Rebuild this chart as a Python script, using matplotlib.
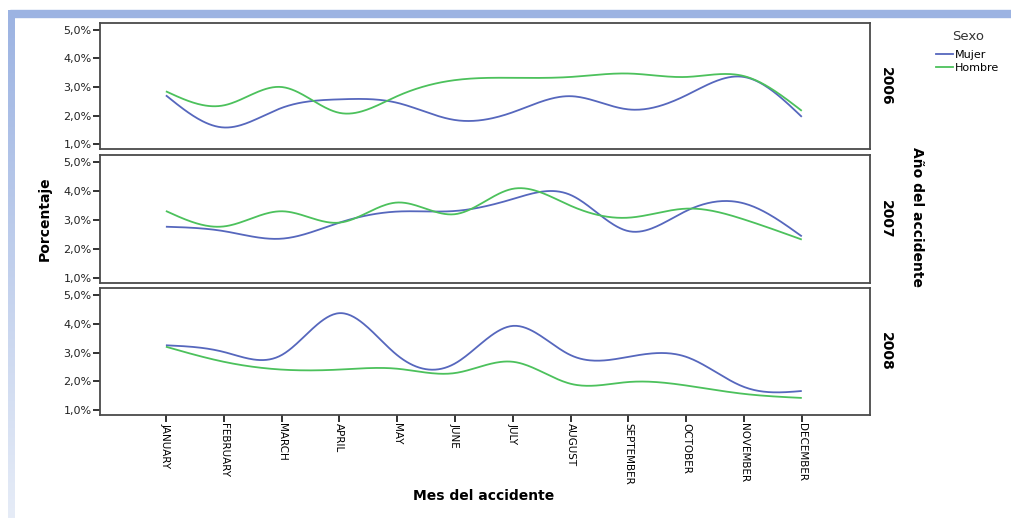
import numpy as np
import matplotlib
matplotlib.use("Agg")
import matplotlib.pyplot as plt
from matplotlib.patches import Rectangle
from matplotlib.lines import Line2D

months = ["JANUARY", "FEBRUARY", "MARCH", "APRIL", "MAY", "JUNE", "JULY",
          "AUGUST", "SEPTEMBER", "OCTOBER", "NOVEMBER", "DECEMBER"]
years = ["2006", "2007", "2008"]

mujer_2006 = [2.71, 1.59, 2.27, 2.57, 2.45, 1.85, 2.12, 2.68, 2.22, 2.71, 3.35, 1.96]
hombre_2006 = [2.85, 2.36, 3.00, 2.10, 2.68, 3.24, 3.32, 3.35, 3.47, 3.35, 3.38, 2.17]
mujer_2007 = [2.77, 2.62, 2.36, 2.91, 3.29, 3.31, 3.72, 3.86, 2.62, 3.31, 3.57, 2.44]
hombre_2007 = [3.31, 2.78, 3.30, 2.91, 3.60, 3.20, 4.07, 3.49, 3.08, 3.39, 3.02, 2.33]
mujer_2008 = [3.25, 3.02, 2.91, 4.36, 2.91, 2.62, 3.92, 2.91, 2.85, 2.85, 1.81, 1.67]
hombre_2008 = [3.20, 2.68, 2.41, 2.41, 2.44, 2.29, 2.68, 1.92, 1.98, 1.86, 1.57, 1.43]

mujer = [mujer_2006, mujer_2007, mujer_2008]
hombre = [hombre_2006, hombre_2007, hombre_2008]

yticks = [1, 2, 3, 4, 5]
ytick_labels = ["1,0%", "2,0%", "3,0%", "4,0%", "5,0%"]

C_MUJER = "#5667bd"
C_HOMBRE = "#4cc15c"


def natural_spline(x, y, n=400):
    """Smooth interpolating curve (natural cubic spline) through the points."""
    x = np.asarray(x, float)
    y = np.asarray(y, float)
    k = len(x)
    h = np.diff(x)
    A = np.zeros((k, k))
    r = np.zeros(k)
    A[0, 0] = A[-1, -1] = 1.0
    for i in range(1, k - 1):
        A[i, i - 1] = h[i - 1]
        A[i, i] = 2 * (h[i - 1] + h[i])
        A[i, i + 1] = h[i]
        r[i] = 3 * ((y[i + 1] - y[i]) / h[i] - (y[i] - y[i - 1]) / h[i - 1])
    c = np.linalg.solve(A, r)
    b = (y[1:] - y[:-1]) / h - h * (2 * c[:-1] + c[1:]) / 3
    d = (c[1:] - c[:-1]) / (3 * h)
    xs = np.linspace(x[0], x[-1], n)
    idx = np.clip(np.searchsorted(x, xs, side="right") - 1, 0, k - 2)
    dx = xs - x[idx]
    ys = y[idx] + b[idx] * dx + c[idx] * dx ** 2 + d[idx] * dx ** 3
    return xs, ys


W, H = 1011, 518
fig = plt.figure(figsize=(W / 100, H / 100), dpi=100)

# window frame: top bar and fading left bar
fig.patches.append(Rectangle((10 / W, 1 - 17 / H), 1 - 10 / W, 7 / H,
                             transform=fig.transFigure, color="#9cb3e2", zorder=0))
grad = np.linspace(0, 1, 256).reshape(-1, 1)
ax_bar = fig.add_axes([8 / W, 0, 7 / W, 1 - 10 / H])
ax_bar.imshow(grad, aspect="auto", extent=[0, 1, 0, 1],
              cmap=matplotlib.colors.LinearSegmentedColormap.from_list(
                  "bar", ["#9cb3e2", "#e6ecf7"]))
ax_bar.axis("off")

left, right = 100 / W, 870 / W
panels_px = [(23, 149), (155, 283), (288, 415)]
x = np.arange(len(months))
spine_col = "#4a4a4a"

axes = []
for i, (top, bot) in enumerate(panels_px):
    ax = fig.add_axes([left, 1 - bot / H, right - left, (bot - top) / H])
    axes.append(ax)
    xs, ys = natural_spline(x, mujer[i])
    ax.plot(xs, ys, color=C_MUJER, lw=1.3, solid_capstyle="butt")
    xs, ys = natural_spline(x, hombre[i])
    ax.plot(xs, ys, color=C_HOMBRE, lw=1.3, solid_capstyle="butt")
    ax.set_xlim(-1.14, 12.18)
    ax.set_ylim(0.84, 5.23)
    ax.set_yticks(yticks)
    ax.set_yticklabels(ytick_labels, fontsize=8, color="#222222")
    ax.tick_params(axis="y", length=5, width=1.3, color="#222222", pad=1)
    for s in ax.spines.values():
        s.set_color(spine_col)
        s.set_linewidth(1.3)
    ax.text(1.011, 0.5, years[i], transform=ax.transAxes, rotation=-90,
            fontsize=10, fontweight="bold", ha="left", va="center")
    if i < 2:
        ax.set_xticks([])
    else:
        ax.set_xticks(x)
        ax.set_xticklabels(months, rotation=-90, fontsize=7.5,
                           family=["Liberation Sans Narrow", "DejaVu Sans"],
                           va="top", ha="center")
        ax.tick_params(axis="x", length=5, width=1.3, color="#222222", pad=1)

fig.text(45 / W, 1 - 219 / H, "Porcentaje", rotation=90, fontsize=10,
         fontweight="bold", ha="center", va="center")
fig.text(917 / W, 1 - 217 / H, "Año del accidente", rotation=-90, fontsize=10,
         fontweight="bold", ha="center", va="center")
fig.text(484 / W, 1 - 496 / H, "Mes del accidente", fontsize=10,
         fontweight="bold", ha="center", va="center")

# legend: title above, two entries below
fig.text(968 / W, 1 - 36 / H, "Sexo", fontsize=9.5, color="#333333",
         ha="center", va="center")
handles = [Line2D([], [], color=C_MUJER, lw=1.3),
           Line2D([], [], color=C_HOMBRE, lw=1.3)]
leg = fig.legend(handles, ["Mujer", "Hombre"], loc="upper left",
                 bbox_to_anchor=(936 / W, 1 - 50 / H), frameon=False,
                 fontsize=8, handlelength=1.5, handletextpad=0.2,
                 labelspacing=0.25, borderaxespad=0, borderpad=0)

fig.savefig("out.png", dpi=100, facecolor="white")
